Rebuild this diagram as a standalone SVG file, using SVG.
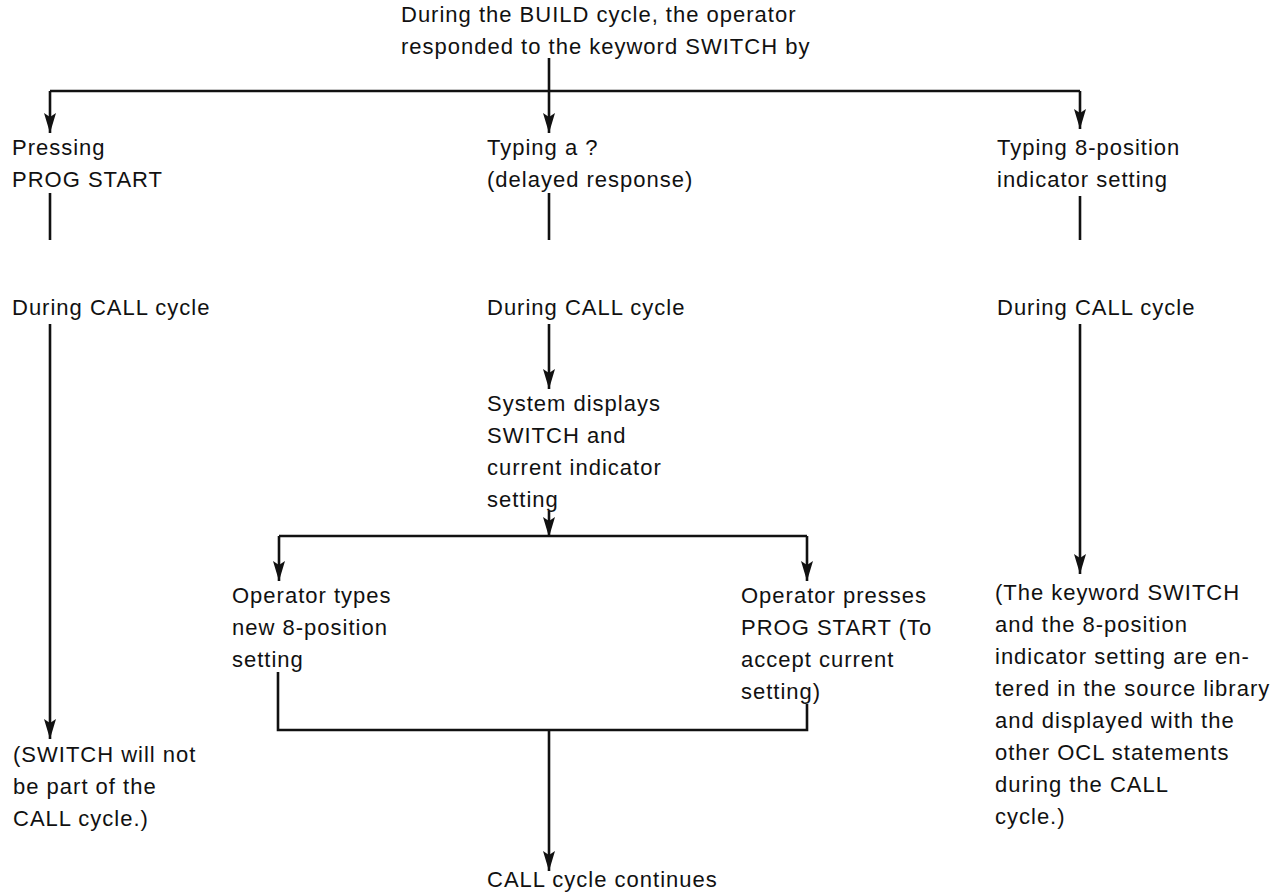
<svg xmlns="http://www.w3.org/2000/svg" width="1287" height="892" viewBox="0 0 1287 892">
<style>
text{font-family:"Liberation Sans",Arial,sans-serif;font-size:22px;letter-spacing:1px;fill:#111}
.c{fill:none;stroke:#111;stroke-width:2.6}
.a{fill:none;stroke:#111;stroke-width:2.6;marker-end:url(#ah)}
</style>
<defs>
<marker id="ah" markerUnits="userSpaceOnUse" markerWidth="22" markerHeight="14" viewBox="0 -7 22 14" refX="20" refY="0" orient="auto">
<path d="M0,-6 L20,0 L0,6 L4,0 z" fill="#111"/>
</marker>
</defs>
<rect width="1287" height="892" fill="#fff"/>
<g id="connectors">
<path class="c" d="M50,91 H1080"/>
<path class="a" d="M549,58 V133"/>
<path class="a" d="M50,91 V133"/>
<path class="a" d="M1080,91 V129"/>
<path class="c" d="M50,193 V240"/>
<path class="c" d="M549,193 V240"/>
<path class="c" d="M1080,196 V240"/>
<path class="a" d="M50,324 V739"/>
<path class="a" d="M549,324 V389"/>
<path class="a" d="M1080,324 V574"/>
<path class="a" d="M549,511 V537"/>
<path class="c" d="M279,536 H807"/>
<path class="a" d="M279,536 V581"/>
<path class="a" d="M807,536 V581"/>
<path class="c" d="M278,672 V730 H807 V704"/>
<path class="a" d="M549,730 V871"/>
</g>
<g id="n-header"><text x="401" y="22">During the BUILD cycle, the operator</text><text x="401" y="54">responded to the keyword SWITCH by</text></g>
<g id="n-pressing"><text x="12" y="155">Pressing</text><text x="12" y="187">PROG START</text></g>
<g id="n-typing-q"><text x="487" y="155">Typing a ?</text><text x="487" y="187">(delayed response)</text></g>
<g id="n-typing-8"><text x="997" y="155">Typing 8-position</text><text x="997" y="187">indicator setting</text></g>
<g id="n-call-left"><text x="12" y="315">During CALL cycle</text></g>
<g id="n-call-mid"><text x="487" y="315">During CALL cycle</text></g>
<g id="n-call-right"><text x="997" y="315">During CALL cycle</text></g>
<g id="n-system"><text x="487" y="411">System displays</text><text x="487" y="443">SWITCH and</text><text x="487" y="475">current indicator</text><text x="487" y="507">setting</text></g>
<g id="n-optypes"><text x="232" y="603">Operator types</text><text x="232" y="635">new 8-position</text><text x="232" y="667">setting</text></g>
<g id="n-oppresses"><text x="741" y="603">Operator presses</text><text x="741" y="635">PROG START (To</text><text x="741" y="667">accept current</text><text x="741" y="699">setting)</text></g>
<g id="n-left-result"><text x="13" y="762">(SWITCH will not</text><text x="13" y="794">be part of the</text><text x="13" y="826">CALL cycle.)</text></g>
<g id="n-right-result"><text x="995" y="600">(The keyword SWITCH</text><text x="995" y="632">and the 8-position</text><text x="995" y="664">indicator setting are en-</text><text x="995" y="696">tered in the source library</text><text x="995" y="728">and displayed with the</text><text x="995" y="760">other OCL statements</text><text x="995" y="792">during the CALL</text><text x="995" y="824">cycle.)</text></g>
<g id="n-continues"><text x="487" y="887">CALL cycle continues</text></g>
</svg>
